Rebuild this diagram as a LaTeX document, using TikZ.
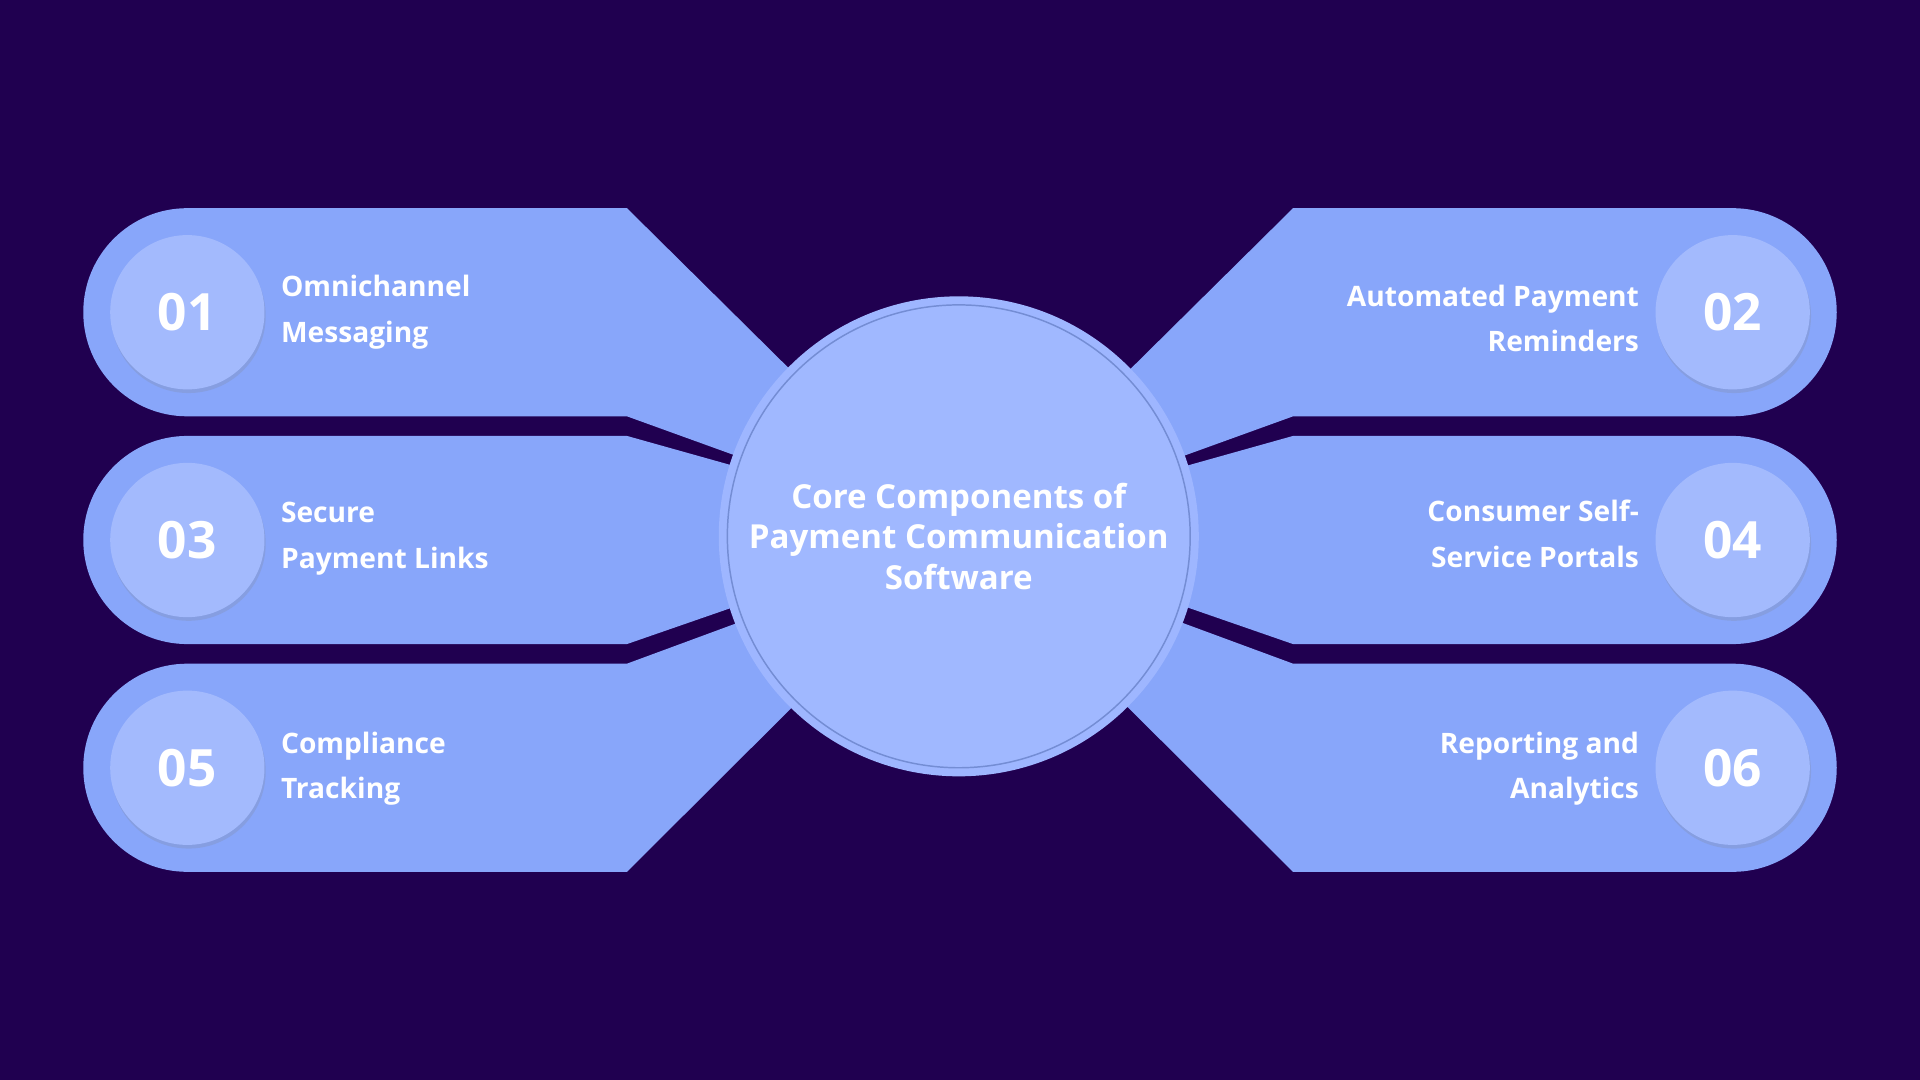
\documentclass[tikz,border=0pt]{standalone}
\usepackage{fontspec}
\setmainfont{Open Sans}
\definecolor{bg}{HTML}{200050}
\definecolor{band}{HTML}{88A6FA}
\definecolor{num}{HTML}{A3BAFD}
\definecolor{core}{HTML}{A0B8FF}
\usetikzlibrary{shadows}
\begin{document}
\begin{tikzpicture}[x=1pt,y=-1pt,
  band/.style={fill=band},
  numc/.style={circle,fill=num,minimum size=126pt,inner sep=0pt,text=white,font=\fontsize{42}{46}\selectfont\bfseries,drop shadow={shadow xshift=1pt,shadow yshift=-3pt,opacity=0.2}},
  lbl/.style={text=white,font=\fontsize{23}{37}\selectfont\bfseries,align=left,anchor=west},
  rbl/.style={text=white,font=\fontsize{23}{37}\selectfont\bfseries,align=right,anchor=east}]
\fill[bg] (0,0) rectangle (1568,882);
\useasboundingbox (0,0) rectangle (1568,882);
\coordinate (c) at (783,438);
% left bands
\fill[band] (512,170) -- (c) -- (512,340) -- (153,340) arc[start angle=90,end angle=270,radius=85] -- cycle;
\fill[band] (512,356) -- (783,432) -- (512,526) -- (153,526) arc[start angle=90,end angle=270,radius=85] -- cycle;
\fill[band] (512,542) -- (783,442) -- (512,712) -- (153,712) arc[start angle=90,end angle=270,radius=85] -- cycle;
% right bands
\fill[band] (1056,170) -- (785,438) -- (1056,340) -- (1415,340) arc[start angle=90,end angle=-90,radius=85] -- cycle;
\fill[band] (1056,356) -- (785,432) -- (1056,526) -- (1415,526) arc[start angle=90,end angle=-90,radius=85] -- cycle;
\fill[band] (1056,542) -- (785,442) -- (1056,712) -- (1415,712) arc[start angle=90,end angle=-90,radius=85] -- cycle;
% core
\fill[fill=core!90!band] (c) circle[radius=196];
\node[circle,fill=core,draw=band!85!black,line width=1.2pt,minimum size=378pt,inner sep=0pt,
  text=white,font=\fontsize{27}{33}\selectfont\bfseries,align=center] (core) at (c)
  {Core Components of\\Payment Communication\\Software};
% numbers
\node[numc] (n1) at (153,255) {01};
\node[numc] (n3) at (153,441) {03};
\node[numc] (n5) at (153,627) {05};
\node[numc] (n2) at (1415,255) {02};
\node[numc] (n4) at (1415,441) {04};
\node[numc] (n6) at (1415,627) {06};
% labels
\node[lbl] (t1) at (226,255) {Omnichannel\\Messaging};
\node[lbl] (t3) at (226,440) {Secure\\Payment Links};
\node[lbl] (t5) at (226,628) {Compliance\\Tracking};
\node[rbl] (t2) at (1342,260) {Automated Payment\\Reminders};
\node[rbl] (t4) at (1342,436) {Consumer Self-\\Service Portals};
\node[rbl] (t6) at (1342,628) {Reporting and\\Analytics};
\end{tikzpicture}
\end{document}
